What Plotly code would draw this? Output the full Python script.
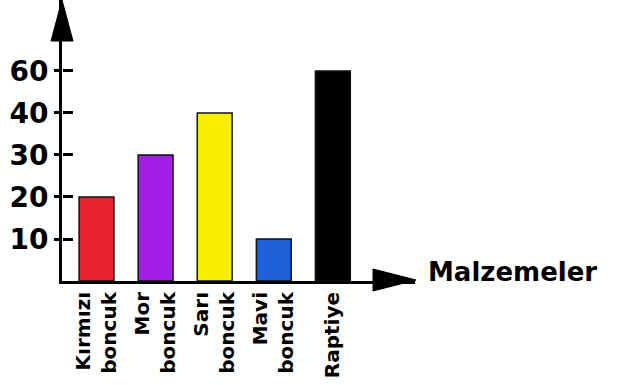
import plotly.graph_objects as go

# ---- data ----
categories = ["Kırmızı<br>boncuk", "Mor<br>boncuk", "Sarı<br>boncuk", "Mavi<br>boncuk", "Raptiye"]
values = [20, 30, 40, 10, 60]
y_ticks = [10, 20, 30, 40, 60]
bar_colors = ["#e8222e", "#a21fe6", "#f8ee00", "#1f5fd8", "#000000"]
x_title = "Malzemeler"

W, H = 622, 385
L, R_EDGE, T, B_EDGE = 62, 415, 0, 281  # plot area in pixels

def px(x):
    return (x - L) / (R_EDGE - L)

def py(y):
    return (B_EDGE - y) / (B_EDGE - T)

# ordinal (hand-drawn style) value axis: baseline + tick values as categories
y_cats = ["0"] + [str(v) for v in y_ticks]

FONT = "DejaVu Sans"

fig = go.Figure()
fig.add_trace(go.Bar(
    x=categories,
    y=[str(v) for v in values],
    marker=dict(color=bar_colors, line=dict(color="#111111", width=1.5)),
    width=0.59,
    hoverinfo="skip",
))

# overlay axis just for the right-hand half of the crossing tick marks
fig.add_trace(go.Scatter(x=[categories[0]], y=["0"], yaxis="y2", mode="markers",
                         marker=dict(opacity=0), hoverinfo="skip", showlegend=False))

yrange = [0, 6.69]
fig.update_layout(
    width=W, height=H,
    margin=dict(l=L, r=W - R_EDGE, t=T, b=H - B_EDGE, pad=0, autoexpand=False),
    plot_bgcolor="white", paper_bgcolor="white",
    showlegend=False,
    font=dict(family=FONT, color="black"),
    xaxis=dict(
        type="category", categoryorder="array", categoryarray=categories,
        range=[-0.584, 5.39], automargin=False,
        showline=True, linecolor="black", linewidth=3,
        showgrid=False, zeroline=False, ticks="",
        tickangle=-90,
        tickfont=dict(family=FONT, size=20, color="black", weight="bold"),
    ),
    yaxis=dict(
        type="category", categoryorder="array", categoryarray=y_cats,
        range=yrange, automargin=False,
        tickvals=y_cats[1:], ticktext=y_cats[1:],
        showline=True, linecolor="black", linewidth=3,
        showgrid=False, zeroline=False,
        ticks="outside", ticklen=5, tickwidth=3, tickcolor="black",
        tickfont=dict(family=FONT, size=28, color="black", weight="bold"),
    ),
    yaxis2=dict(
        type="category", categoryorder="array", categoryarray=y_cats,
        range=yrange, overlaying="y", side="right", anchor="free", position=0,
        automargin=False,
        tickvals=y_cats[1:], ticktext=["" for _ in y_cats[1:]],
        showline=False, showgrid=False, zeroline=False,
        ticks="outside", ticklen=10, tickwidth=3, tickcolor="black",
    ),
    shapes=[
        # y-axis arrowhead
        dict(type="path", xref="paper", yref="paper", layer="above",
             path=f"M {px(62)} {py(0)} L {px(51)} {py(41)} L {px(73)} {py(41)} Z",
             fillcolor="black", line=dict(color="black", width=1)),
        # x-axis arrowhead
        dict(type="path", xref="paper", yref="paper", layer="above",
             path=f"M {px(416)} {py(280)} L {px(373)} {py(269)} L {px(373)} {py(291)} Z",
             fillcolor="black", line=dict(color="black", width=1)),
    ],
    annotations=[
        dict(text=x_title, xref="paper", yref="paper",
             x=px(426), y=py(272), xanchor="left", yanchor="middle",
             showarrow=False,
             font=dict(family=FONT, size=26, color="black", weight="bold")),
    ],
)

fig.write_html("out.html", config={"displayModeBar": False},
               post_script="document.body.style.margin='0px';")
